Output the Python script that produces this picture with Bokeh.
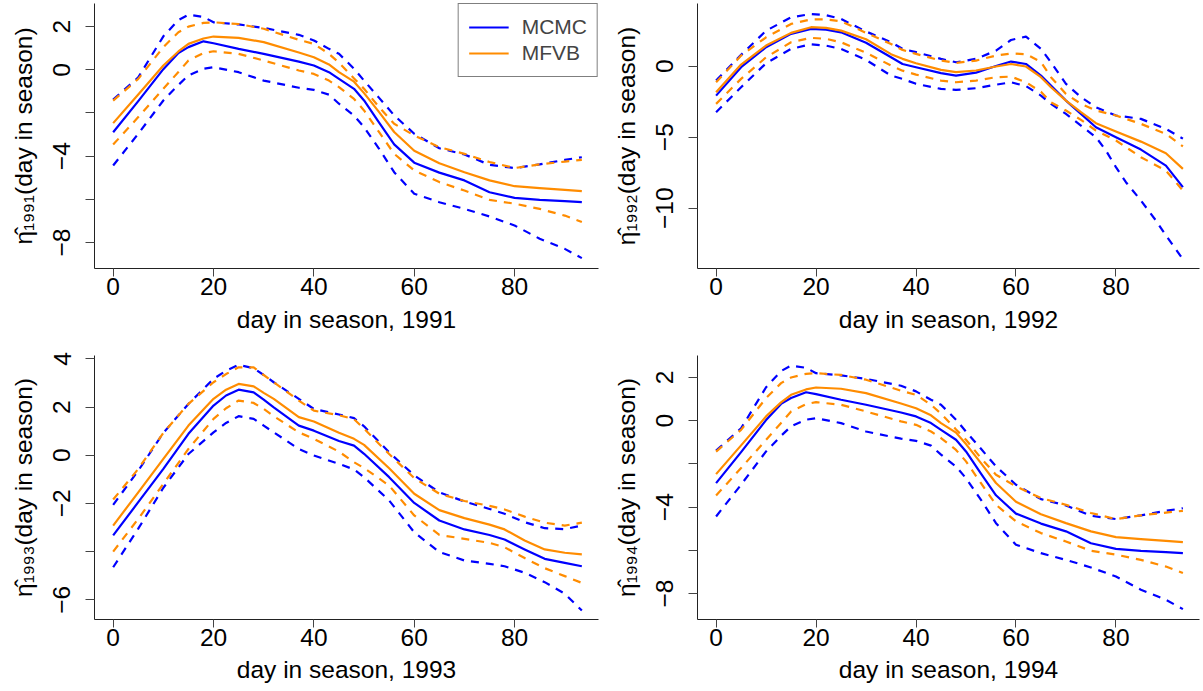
from bokeh.plotting import figure
from bokeh.models import Range1d, FixedTicker, Legend, LegendItem
from bokeh.layouts import row, column
from bokeh.embed import file_html
from bokeh.resources import INLINE

# ---------------- data ----------------
# 1991 (the 1994 panel shows the same curves)
days_1991 = [0, 5, 10, 13, 15, 18, 20, 25, 30, 37, 40, 43, 45, 48, 50, 53, 56, 60, 65, 70, 75, 80, 85, 90, 93.4]
mcmc_mean_1991 = [-2.89, -1.45, 0.03, 0.78, 1.05, 1.32, 1.23, 0.97, 0.74, 0.38, 0.2, -0.11, -0.42, -0.88, -1.42, -2.45, -3.45, -4.3, -4.76, -5.12, -5.67, -5.93, -6.02, -6.08, -6.13]
mcmc_upper_1991 = [-1.38, -0.35, 1.55, 2.3, 2.55, 2.45, 2.2, 2.1, 1.94, 1.62, 1.36, 0.97, 0.74, 0.05, -0.5, -1.3, -2.11, -2.96, -3.63, -3.92, -4.4, -4.55, -4.38, -4.17, -4.05]
mcmc_lower_1991 = [-4.43, -2.96, -1.42, -0.7, -0.26, 0.05, 0.12, -0.11, -0.5, -0.83, -0.93, -1.15, -1.57, -2.12, -2.66, -3.66, -4.74, -5.74, -6.13, -6.44, -6.79, -7.21, -7.82, -8.29, -8.72]
mfvb_mean_1991 = [-2.47, -1.14, 0.2, 0.85, 1.2, 1.45, 1.54, 1.48, 1.28, 0.8, 0.58, 0.25, -0.11, -0.55, -1.08, -1.96, -2.88, -3.75, -4.33, -4.74, -5.12, -5.39, -5.48, -5.56, -5.62]
mfvb_upper_1991 = [-1.43, -0.42, 1.05, 1.74, 2.0, 2.17, 2.2, 2.12, 1.9, 1.39, 1.2, 0.74, 0.33, -0.4, -0.88, -1.73, -2.5, -3.04, -3.58, -3.89, -4.27, -4.55, -4.38, -4.25, -4.17]
mfvb_lower_1991 = [-3.46, -2.19, -0.88, -0.1, 0.43, 0.77, 0.86, 0.74, 0.43, -0.03, -0.19, -0.5, -0.8, -1.35, -1.88, -2.89, -3.89, -4.66, -5.2, -5.59, -6.02, -6.2, -6.44, -6.75, -7.05]

# 1992
days_1992 = [0, 5, 10, 15, 19, 22, 25, 30, 35, 37.3, 40, 45, 48, 52, 56, 59, 62, 65, 67, 70, 73, 76, 80, 85, 90, 93.4]
mcmc_mean_1992 = [-2.07, -0.07, 1.34, 2.28, 2.63, 2.58, 2.39, 1.65, 0.63, 0.16, -0.07, -0.49, -0.66, -0.45, 0.02, 0.33, 0.16, -0.66, -1.36, -2.42, -3.36, -4.3, -5.0, -5.87, -7.0, -8.52]
mcmc_upper_1992 = [-1.01, 0.8, 2.5, 3.45, 3.68, 3.6, 3.33, 2.45, 1.69, 1.22, 0.99, 0.52, 0.28, 0.52, 1.1, 1.85, 2.09, 1.22, 0.28, -1.24, -2.18, -2.89, -3.47, -3.71, -4.41, -5.1]
mfvb_mean_1992 = [-1.83, 0.12, 1.46, 2.35, 2.75, 2.7, 2.51, 1.9, 0.85, 0.52, 0.21, -0.26, -0.42, -0.3, -0.02, 0.16, -0.02, -0.77, -1.48, -2.42, -3.24, -4.01, -4.6, -5.31, -6.13, -7.23]
mfvb_upper_1992 = [-1.13, 0.75, 2.04, 2.98, 3.3, 3.3, 3.17, 2.35, 1.57, 1.15, 0.87, 0.4, 0.23, 0.4, 0.75, 0.9, 0.85, 0.3, -0.77, -1.95, -2.65, -3.12, -3.47, -4.06, -4.77, -5.65]
mfvb_lower_1992 = [-2.65, -0.89, 0.63, 1.69, 2.0, 1.93, 1.69, 0.95, 0.05, -0.31, -0.59, -1.01, -1.13, -1.01, -0.77, -0.73, -1.13, -1.8, -2.54, -3.12, -3.78, -4.53, -5.23, -6.41, -7.35, -8.76]
days_1992_lower = [0, 5, 10, 15, 19, 22, 25, 30, 35, 37.3, 40, 45, 48, 52, 56, 59, 62, 65, 67, 70, 73, 76, 78, 80, 82, 85, 88, 90, 93.4]
mcmc_lower_1992 = [-3.24, -1.48, 0.21, 1.22, 1.55, 1.45, 1.22, 0.45, -0.66, -0.89, -1.24, -1.6, -1.67, -1.55, -1.3, -1.13, -1.4, -2.07, -2.65, -3.36, -4.18, -5.0, -5.94, -7.11, -8.17, -9.46, -10.87, -11.92, -13.6]

# 1993
days_1993 = [0, 5, 10, 15, 20, 22.5, 25, 28, 30, 32, 37, 40, 45, 48, 50, 55, 60, 65, 70, 75, 78, 82, 86, 90, 93.4]
mcmc_mean_1993 = [-3.33, -1.95, -0.57, 0.89, 2.06, 2.48, 2.72, 2.61, 2.31, 1.99, 1.23, 1.02, 0.59, 0.4, 0.06, -0.91, -1.98, -2.71, -3.08, -3.31, -3.5, -3.91, -4.3, -4.47, -4.61]
mcmc_upper_1993 = [-2.06, -0.64, 0.93, 2.13, 3.17, 3.51, 3.75, 3.61, 3.33, 3.03, 2.34, 1.92, 1.69, 1.54, 1.2, 0.12, -0.84, -1.54, -1.92, -2.23, -2.43, -2.78, -3.03, -3.07, -2.92]
mcmc_lower_1993 = [-4.65, -3.05, -1.35, 0.05, 0.95, 1.34, 1.62, 1.51, 1.23, 0.95, 0.26, -0.01, -0.36, -0.59, -0.91, -1.88, -3.2, -4.02, -4.37, -4.51, -4.61, -4.88, -5.27, -5.75, -6.45]
mfvb_mean_1993 = [-2.92, -1.54, -0.15, 1.23, 2.34, 2.72, 2.96, 2.86, 2.59, 2.34, 1.58, 1.4, 0.93, 0.68, 0.43, -0.54, -1.6, -2.28, -2.61, -2.88, -3.08, -3.54, -3.91, -4.05, -4.12]
mfvb_upper_1993 = [-1.84, -0.57, 0.93, 2.13, 3.03, 3.37, 3.65, 3.65, 3.33, 3.03, 2.27, 1.85, 1.66, 1.5, 1.1, 0.05, -0.95, -1.6, -1.9, -2.1, -2.25, -2.55, -2.8, -2.92, -2.8]
mfvb_lower_1993 = [-4.0, -2.64, -1.19, 0.26, 1.51, 1.95, 2.27, 2.17, 1.92, 1.62, 0.95, 0.68, 0.15, -0.29, -0.53, -1.26, -2.5, -3.31, -3.47, -3.64, -3.82, -4.27, -4.69, -5.02, -5.3]

# 1994 (same curves as 1991 in the reference)
days_1994 = list(days_1991)
mcmc_mean_1994 = list(mcmc_mean_1991)
mcmc_upper_1994 = list(mcmc_upper_1991)
mcmc_lower_1994 = list(mcmc_lower_1991)
mfvb_mean_1994 = list(mfvb_mean_1991)
mfvb_upper_1994 = list(mfvb_upper_1991)
mfvb_lower_1994 = list(mfvb_lower_1991)

x_ticks = [0, 20, 40, 60, 80]
y_ticks_1991 = [-8, -6, -4, -2, 0, 2]
y_labels_1991 = ["\u22128", "", "\u22124", "", "0", "2"]
y_ticks_1992 = [-10, -5, 0]
y_labels_1992 = ["\u221210", "\u22125", "0"]
y_ticks_1993 = [-6, -4, -2, 0, 2, 4]
y_labels_1993 = ["\u22126", "", "\u22122", "0", "2", "4"]

legend_labels = ["MCMC", "MFVB"]

# ---------------- styling ----------------
BLUE = "#0000FF"
ORANGE = "#FF8C00"
FONT = "Liberation Sans"
FS = "24.5px"
SUB = str.maketrans("0123456789", "\u2080\u2081\u2082\u2083\u2084\u2085\u2086\u2087\u2088\u2089")


def make_panel(year, days_m, m_mean, m_up, m_lo, f_mean, f_up, f_lo, yticks, ylabels,
               xr, yr, frame_w, frame_h, borders, days_m_lo=None, legend=False,
               xlab_standoff=(1, 8)):
    bl, br, bt, bb = borders
    p = figure(frame_width=frame_w, frame_height=frame_h, x_range=Range1d(*xr), y_range=Range1d(*yr),
               output_backend="svg", toolbar_location=None,
               min_border_left=bl, min_border_right=br, min_border_top=bt, min_border_bottom=bb)
    p.outline_line_color = None
    p.xgrid.visible = False
    p.ygrid.visible = False
    p.background_fill_color = "white"
    p.border_fill_color = "white"

    for ax in (p.xaxis[0], p.yaxis[0]):
        ax.axis_line_color = "#222222"
        ax.axis_line_width = 1
        ax.major_tick_line_color = "#444444"
        ax.major_tick_in = 0
        ax.minor_tick_line_color = None
        ax.major_label_text_font = FONT
        ax.major_label_text_font_size = FS
        ax.major_label_text_color = "black"
        ax.axis_label_text_font = FONT
        ax.axis_label_text_font_size = FS
        ax.axis_label_text_font_style = "normal"
        ax.axis_label_text_color = "black"

    p.xaxis.ticker = FixedTicker(ticks=x_ticks, minor_ticks=[])
    p.xaxis.major_tick_out = 8
    p.xaxis.major_label_standoff = xlab_standoff[0]
    p.xaxis.axis_label = f"day in season, {year}"
    p.xaxis.axis_label_standoff = xlab_standoff[1]

    p.yaxis.ticker = FixedTicker(ticks=yticks, minor_ticks=[])
    p.yaxis.major_label_overrides = {t: s for t, s in zip(yticks, ylabels)}
    p.yaxis.major_label_orientation = "vertical"
    p.yaxis.major_tick_out = 9
    p.yaxis.major_label_standoff = 15
    p.yaxis.axis_label = "\u03b7\u0302" + str(year).translate(SUB) + "(day in season)"
    p.yaxis.axis_label_standoff = 14

    lw = 2.2
    dash = "8 7"
    lo_days = days_m_lo if days_m_lo is not None else days_m
    kw = dict(line_width=lw, line_join="round")
    p.line(days_m, m_up, color=BLUE, line_dash=dash, **kw)
    p.line(lo_days, m_lo, color=BLUE, line_dash=dash, **kw)
    p.line(days_m, f_up, color=ORANGE, line_dash=dash, **kw)
    p.line(days_m, f_lo, color=ORANGE, line_dash=dash, **kw)
    rb = p.line(days_m, m_mean, color=BLUE, **kw)
    ro = p.line(days_m, f_mean, color=ORANGE, **kw)

    if legend:
        lg = Legend(items=[LegendItem(label=legend_labels[0], renderers=[rb]),
                           LegendItem(label=legend_labels[1], renderers=[ro])],
                    location="top_right", margin=0, padding=10, spacing=0,
                    label_height=26, glyph_height=26, glyph_width=40, label_standoff=13,
                    label_text_font=FONT, label_text_font_size="21px",
                    border_line_color="black", border_line_width=1,
                    background_fill_color="white", background_fill_alpha=1.0)
        p.add_layout(lg)
    return p


XR = (-3.72, 96.72)

p1 = make_panel(1991, days_1991, mcmc_mean_1991, mcmc_upper_1991, mcmc_lower_1991,
                mfvb_mean_1991, mfvb_upper_1991, mfvb_lower_1991, y_ticks_1991, y_labels_1991,
                XR, (-9.2, 3.07), 504, 265, (94, 11, 3, 80), legend=True)
p2 = make_panel(1992, days_1992, mcmc_mean_1992, mcmc_upper_1992, mcmc_lower_1992,
                mfvb_mean_1992, mfvb_upper_1992, mfvb_lower_1992, y_ticks_1992, y_labels_1992,
                XR, (-14.25, 4.42), 502, 265, (86, 6, 3, 80), days_m_lo=days_1992_lower)
p3 = make_panel(1993, days_1993, mcmc_mean_1993, mcmc_upper_1993, mcmc_lower_1993,
                mfvb_mean_1993, mfvb_upper_1993, mfvb_lower_1993, y_ticks_1993, y_labels_1993,
                XR, (-6.82, 4.14), 504, 264, (94, 11, 7, 72), xlab_standoff=(1, 7))
p4 = make_panel(1994, days_1994, mcmc_mean_1994, mcmc_upper_1994, mcmc_lower_1994,
                mfvb_mean_1994, mfvb_upper_1994, mfvb_lower_1994, y_ticks_1991, y_labels_1991,
                XR, (-9.2, 3.02), 502, 264, (86, 6, 7, 72), xlab_standoff=(1, 7))

layout = column(row(p1, p2, spacing=0), row(p3, p4, spacing=0), spacing=0)

with open("out.html", "w") as f:
    f.write(file_html(layout, INLINE))
